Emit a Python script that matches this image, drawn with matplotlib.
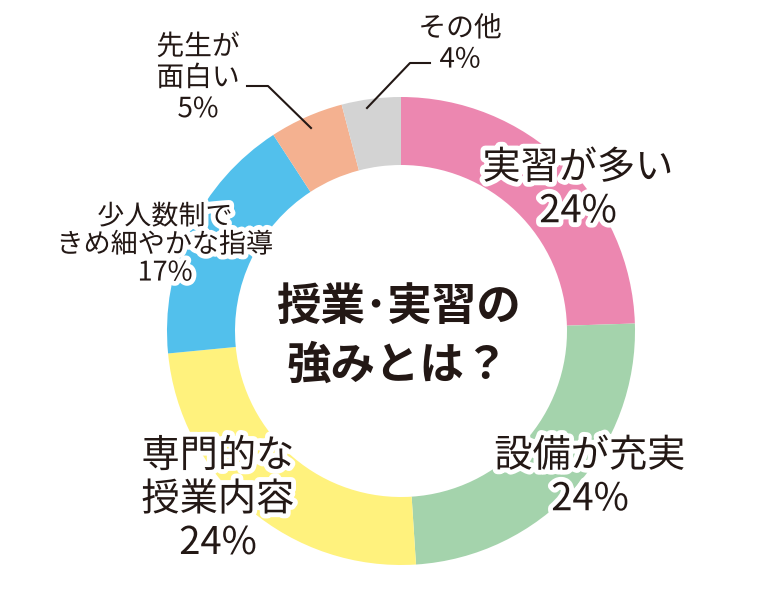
import matplotlib.pyplot as plt
import matplotlib.patheffects as pe

plt.rcParams['font.family'] = ['Noto Sans CJK JP', 'DejaVu Sans']

# データ (時計回り, 上から)
labels = ["実習が多い", "設備が充実", "専門的な\n授業内容", "少人数制で\nきめ細やかな指導",
          "先生が\n面白い", "その他"]
values = [24, 24, 24, 17, 5, 4]
colors = ["#EC87B0", "#A4D3AC", "#FFF27D", "#52C0EC", "#F4B190", "#D3D3D3"]

W, H = 767, 596
fig = plt.figure(figsize=(W / 100, H / 100), dpi=100)
ax = fig.add_axes([0, 0, 1, 1])

cx, cy, R, width = 401, 331, 234, 68

# y軸を反転しているので counterclock=True で時計回りに見える
ax.pie(values, colors=colors, startangle=-90, counterclock=True,
       center=(cx, cy), radius=R, frame=True,
       wedgeprops=dict(width=width, linewidth=0))
ax.set_xlim(0, W)
ax.set_ylim(H, 0)
ax.set_aspect("equal")
ax.axis("off")

outline = [pe.withStroke(linewidth=7, foreground="white")]
txt = "#231815"

def label(x, y, s, size, ls=1.15):
    ax.text(x, y, s, ha="center", va="center", fontsize=size, color=txt,
            linespacing=ls, path_effects=outline)

label(578, 190, labels[0] + "\n24%", 27.5)
label(590, 478, labels[1] + "\n24%", 27.5)
label(218, 500, labels[2] + "\n24%", 27.5)
label(165, 245, labels[3] + "\n17%", 19.5, 1.05)
label(198, 78, labels[4] + "\n5%", 20, 1.05)
label(460, 44, labels[5] + "\n4%", 20, 1.05)

# 引き出し線
ax.plot([247, 268, 311], [86, 86, 128], color=txt, lw=1.5)
ax.plot([430, 410, 367], [63, 63, 108], color=txt, lw=1.5)

ax.text(398, 336, "授業･実習の\n強みとは？", ha="center", va="center",
        fontsize=32, fontweight="bold", color=txt, linespacing=1.35)

fig.savefig("out.png", dpi=100)
